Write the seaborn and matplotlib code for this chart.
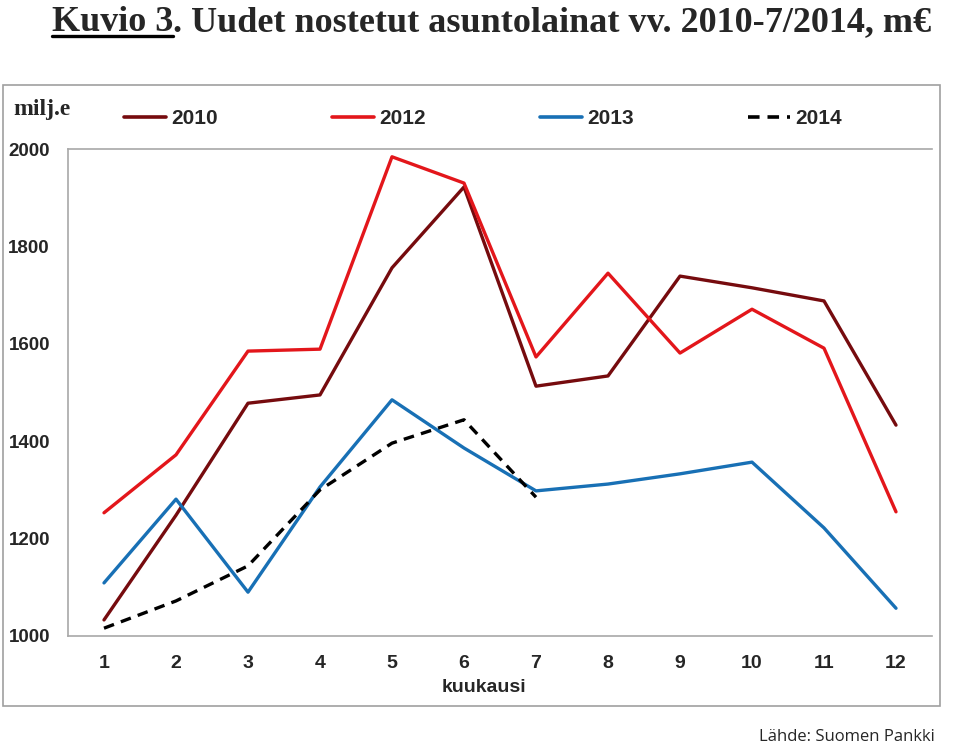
"""Uudet nostetut asuntolainat kuukausittain 2010-7/2014 (Kuvio 3)."""

import matplotlib

matplotlib.use("Agg")

import matplotlib.pyplot as plt
import pandas as pd
import seaborn as sns
from matplotlib.lines import Line2D
from matplotlib.patches import Rectangle

MONTHS = list(range(1, 13))
YEARS = ["2010", "2012", "2013", "2014"]

LOANS_2010 = [1033, 1248, 1478, 1495, 1756, 1922, 1513, 1534, 1739, 1715, 1688, 1433]
LOANS_2012 = [1253, 1372, 1585, 1589, 1984, 1930, 1573, 1745, 1581, 1671, 1591, 1255]
LOANS_2013 = [1109, 1281, 1090, 1306, 1485, 1386, 1298, 1312, 1333, 1357, 1222, 1057]
LOANS_2014 = [1016, 1072, 1144, 1300, 1396, 1444, 1285]

Y_TICKS = [1000, 1200, 1400, 1600, 1800, 2000]

COLORS = {"2010": "#760B0E", "2012": "#E3161B", "2013": "#1870B5", "2014": "#000000"}
DASHES = {"2010": "", "2012": "", "2013": "", "2014": (3.2, 2.2)}


def build_frame() -> pd.DataFrame:
    rows = []
    for year, values in zip(YEARS, [LOANS_2010, LOANS_2012, LOANS_2013, LOANS_2014]):
        for month, value in zip(MONTHS, values):
            rows.append({"kuukausi": month, "milj": value, "vuosi": year})
    return pd.DataFrame(rows)


def main() -> None:
    sns.set_style("white")
    plt.rcParams["font.family"] = ["Liberation Sans", "DejaVu Sans"]

    df = build_frame()

    fig = plt.figure(figsize=(9.6, 7.44), dpi=100)
    ax = fig.add_axes([68 / 960, 1 - 636 / 744, 864 / 960, 487 / 744])

    sns.lineplot(
        data=df,
        x="kuukausi",
        y="milj",
        hue="vuosi",
        style="vuosi",
        hue_order=YEARS,
        style_order=YEARS,
        palette=COLORS,
        dashes=DASHES,
        linewidth=2.4,
        legend=False,
        ax=ax,
    )

    ax.set_xlim(0.5, 12.5)
    ax.set_ylim(1000, 2000)
    ax.set_yticks(Y_TICKS)
    ax.set_yticklabels([str(t) for t in Y_TICKS], fontsize=13.5, fontweight="bold")
    ax.set_xticks(MONTHS)
    ax.set_xticklabels([str(m) for m in MONTHS], fontsize=14, fontweight="bold")
    ax.set_xticks([m + 0.5 for m in range(0, 13)], minor=True)
    ax.tick_params(axis="x", which="major", length=0, pad=14)
    ax.tick_params(axis="x", which="minor", length=5, color="#9A9A9A", width=1)
    ax.tick_params(axis="y", length=5, color="#9A9A9A", width=1, pad=8)
    ax.set_xlabel("kuukausi", fontsize=14, fontweight="bold")
    ax.xaxis.set_label_coords((484 - 68) / 864, -51 / 487)
    ax.xaxis.label.set_va("center")
    ax.set_ylabel("")

    for side in ["left", "bottom", "top"]:
        ax.spines[side].set_color("#A8A8A8")
        ax.spines[side].set_linewidth(1.2)
    ax.spines["right"].set_visible(False)

    handles = [
        Line2D([], [], color=COLORS[y], linewidth=2.6,
               linestyle=(0, DASHES[y]) if DASHES[y] else "-")
        for y in YEARS
    ]
    fig.legend(
        handles,
        YEARS,
        loc="center",
        bbox_to_anchor=(0.503, 1 - 119 / 744),
        ncol=4,
        frameon=False,
        handlelength=2.0,
        handletextpad=0.25,
        columnspacing=5.5,
        prop={"size": 15, "weight": "bold"},
    )

    fig.text(13 / 960, 1 - 110 / 744, "milj.e", fontsize=17, fontweight="bold",
             family="Liberation Serif", va="center", ha="left")

    # outer frame round the chart
    fig.patches.append(Rectangle((3 / 960, 1 - 706 / 744), 937 / 960, 621 / 744,
                                 transform=fig.transFigure, fill=False,
                                 edgecolor="#A0A0A0", linewidth=1.2))

    # title, "Kuvio 3" underlined
    title_kw = dict(fontsize=26, fontweight="bold", family="Liberation Serif",
                    va="baseline", ha="left")
    y_base = 1 - 31 / 744
    t1 = fig.text(52 / 960, y_base, "Kuvio 3", **title_kw)
    fig.canvas.draw()
    bb = t1.get_window_extent()
    fig.text(bb.x1 / 960, y_base, ". Uudet nostetut asuntolainat vv. 2010-7/2014, m€",
             **title_kw)
    fig.lines.append(Line2D([bb.x0 / 960, bb.x1 / 960], [y_base - 5 / 744] * 2,
                            transform=fig.transFigure, color="black", linewidth=2.4))

    fig.text(935 / 960, 1 - 737 / 744, "Lähde: Suomen Pankki", fontsize=12,
             family="Open Sans", ha="right", va="center")

    fig.savefig("out.png", dpi=100)


if __name__ == "__main__":
    main()
